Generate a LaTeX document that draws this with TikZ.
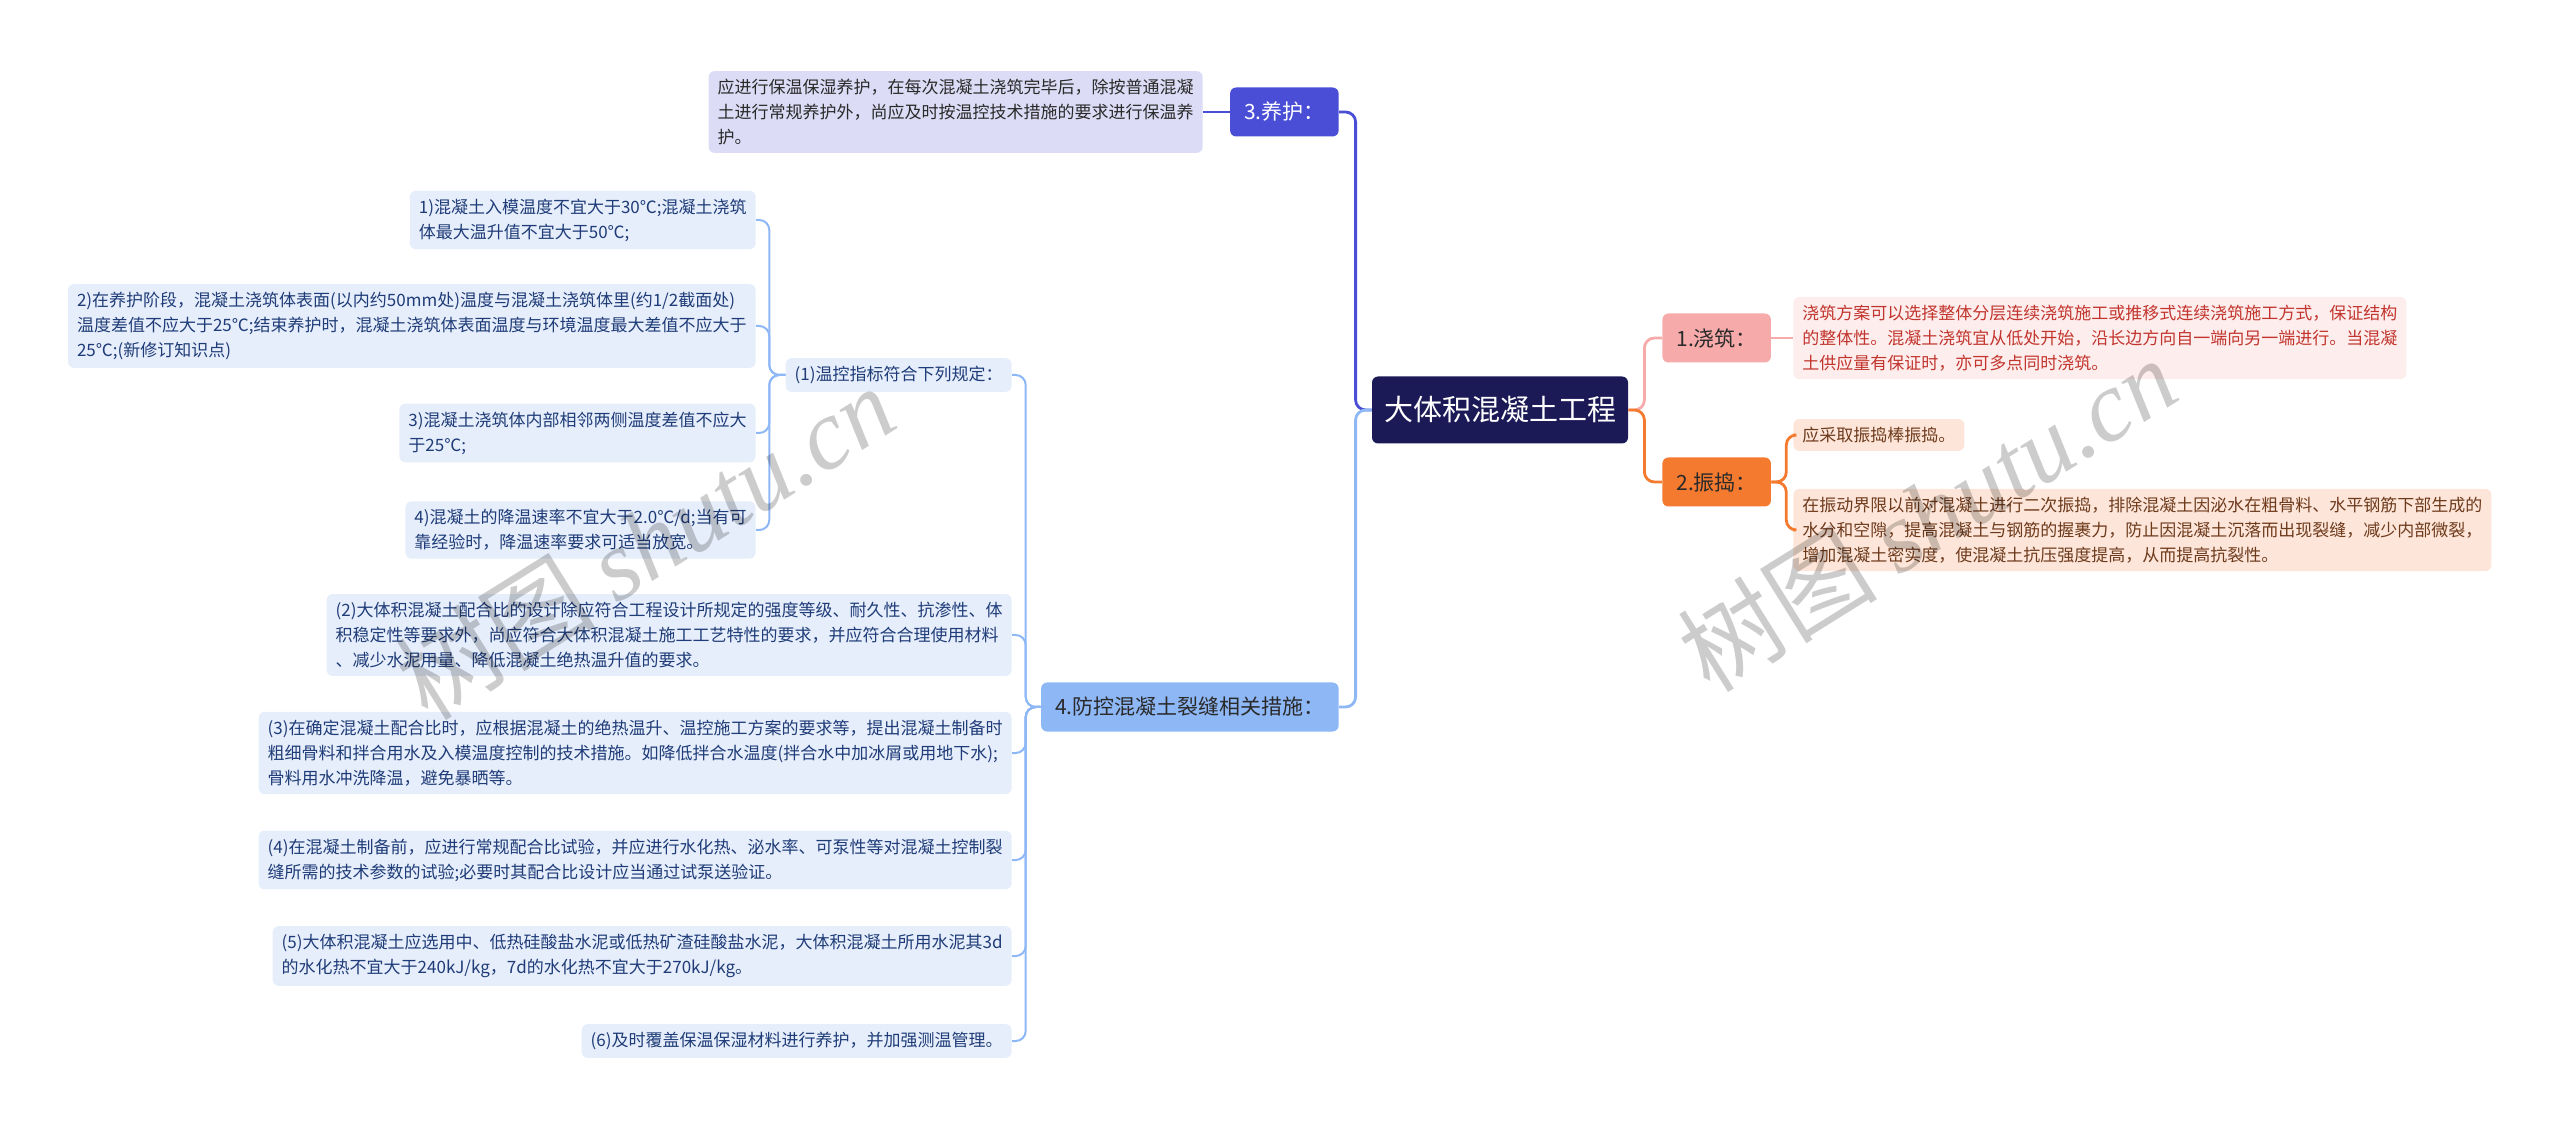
\documentclass[tikz,border=0pt]{standalone}
\usepackage{fontspec}
\setmainfont{Noto Sans CJK SC}
\newfontfamily\wmfont{Liberation Serif}
\usepackage{tikz}
\usetikzlibrary{positioning, calc}
\usepackage{xcolor}
\definecolor{ink}     {HTML}{2A2A2A}
\definecolor{navy}    {HTML}{1B1A57}
\definecolor{pinkb}   {HTML}{F6ABAA}
\definecolor{pinkl}   {HTML}{FDEDEC}
\definecolor{pinkt}   {HTML}{C2352E}
\definecolor{orangeb} {HTML}{F47A2F}
\definecolor{orangel} {HTML}{FDE6D9}
\definecolor{oranget} {HTML}{6E3A1C}
\definecolor{blueb}   {HTML}{4A4ED6}
\definecolor{bluel}   {HTML}{DCDCF6}
\definecolor{skyb}    {HTML}{8EB7F6}
\definecolor{skyl}    {HTML}{E6EEFB}
\definecolor{skyt}    {HTML}{1F3C78}
\tikzset{
  box/.style     = {rounded corners=3pt, inner xsep=4.5pt, inner ysep=4pt,
                    align=left, font=\fontsize{8.5}{12.5}\selectfont},
  rootbox/.style = {rounded corners=3pt, fill=navy, text=white, inner xsep=6pt,
                    minimum height=33.5pt, font=\fontsize{14.5}{17}\selectfont},
  branch/.style  = {rounded corners=3pt, inner xsep=7pt, minimum width=51.5pt,
                    minimum height=24.5pt, font=\fontsize{10.5}{13}\selectfont},
  pourb/.style   = {branch, fill=pinkb, text=ink},
  vibb/.style    = {branch, fill=orangeb, text=ink},
  cureb/.style   = {branch, fill=blueb, text=white},
  crackb/.style  = {branch, fill=skyb, text=ink},
  pourl/.style   = {box, fill=pinkl, text=pinkt},
  vibl/.style    = {box, fill=orangel, text=oranget},
  curel/.style   = {box, fill=bluel, text=ink},
  crackl/.style  = {box, fill=skyl, text=skyt},
  link/.style    = {line width=1.4pt, rounded corners=5pt},
  sublink/.style = {line width=1pt, rounded corners=5pt, skyb},
  wmark/.style   = {text=black, text opacity=0.2, rotate=32,
                    font=\fontsize{50}{56}\selectfont},
}

\begin{document}
\begin{tikzpicture}[x=0.5pt, y=-0.5pt]
  \useasboundingbox (0,0) rectangle (2560,1133);

  \node[rootbox] (root) at (1500,410) {大体积混凝土工程};

  \node[pourb, anchor=west]  (pour)  at (1662,338) {1.浇筑：};
  \node[vibb, anchor=west]   (vib)   at (1662,482) {2.振捣：};
  \node[cureb, anchor=east]  (cure)  at (1339,112) {3.养护：};
  \node[crackb, anchor=east] (crack) at (1339,707) {4.防控混凝土裂缝相关措施：};

  \node[pourl, anchor=west] (pour1) at (1793,338)
    {浇筑方案可以选择整体分层连续浇筑施工或推移式连续浇筑施工方式，保证结构\\
     的整体性。混凝土浇筑宜从低处开始，沿长边方向自一端向另一端进行。当混凝\\
     土供应量有保证时，亦可多点同时浇筑。};

  \node[vibl, anchor=west] (vib1) at (1793,435) {应采取振捣棒振捣。};
  \node[vibl, anchor=west] (vib2) at (1793,530)
    {在振动界限以前对混凝土进行二次振捣，排除混凝土因泌水在粗骨料、水平钢筋下部生成的\\
     水分和空隙，提高混凝土与钢筋的握裹力，防止因混凝土沉落而出现裂缝，减少内部微裂，\\
     增加混凝土密实度，使混凝土抗压强度提高，从而提高抗裂性。};

  \node[curel, anchor=east] (cure1) at (1203,112)
    {应进行保温保湿养护，在每次混凝土浇筑完毕后，除按普通混凝\\
     土进行常规养护外，尚应及时按温控技术措施的要求进行保温养\\
     护。};

  \node[crackl, anchor=east] (s1) at (1012,375) {(1)温控指标符合下列规定：};
  \node[crackl, anchor=east] (s2) at (1012,635)
    {(2)大体积混凝土配合比的设计除应符合工程设计所规定的强度等级、耐久性、抗渗性、体\\
     积稳定性等要求外，尚应符合大体积混凝土施工工艺特性的要求，并应符合合理使用材料\\
     、减少水泥用量、降低混凝土绝热温升值的要求。};
  \node[crackl, anchor=east] (s3) at (1012,753)
    {(3)在确定混凝土配合比时，应根据混凝土的绝热温升、温控施工方案的要求等，提出混凝土制备时\\
     粗细骨料和拌合用水及入模温度控制的技术措施。如降低拌合水温度(拌合水中加冰屑或用地下水);\\
     骨料用水冲洗降温，避免暴晒等。};
  \node[crackl, anchor=east] (s4) at (1012,860)
    {(4)在混凝土制备前，应进行常规配合比试验，并应进行水化热、泌水率、可泵性等对混凝土控制裂\\
     缝所需的技术参数的试验;必要时其配合比设计应当通过试泵送验证。};
  \node[crackl, anchor=east] (s5) at (1012,956)
    {(5)大体积混凝土应选用中、低热硅酸盐水泥或低热矿渣硅酸盐水泥，大体积混凝土所用水泥其3d\\
     的水化热不宜大于240kJ/kg，7d的水化热不宜大于270kJ/kg。};
  \node[crackl, anchor=east] (s6) at (1012,1041) {(6)及时覆盖保温保湿材料进行养护，并加强测温管理。};

  \node[crackl, anchor=east] (t1) at (756,220)
    {1)混凝土入模温度不宜大于30℃;混凝土浇筑\\
     体最大温升值不宜大于50℃;};
  \node[crackl, anchor=east] (t2) at (756,326)
    {2)在养护阶段，混凝土浇筑体表面(以内约50mm处)温度与混凝土浇筑体里(约1/2截面处)\\
     温度差值不应大于25℃;结束养护时，混凝土浇筑体表面温度与环境温度最大差值不应大于\\
     25℃;(新修订知识点)};
  \node[crackl, anchor=east] (t3) at (756,433)
    {3)混凝土浇筑体内部相邻两侧温度差值不应大\\
     于25℃;};
  \node[crackl, anchor=east] (t4) at (756,530)
    {4)混凝土的降温速率不宜大于2.0℃/d;当有可\\
     靠经验时，降温速率要求可适当放宽。};

  \draw[link, pinkb]   (root.east) -- ++(16,0) |- (pour.west);
  \draw[link, orangeb] (root.east) -- ++(16,0) |- (vib.west);
  \draw[link, blueb]   (root.west) -- ++(-16,0) |- (cure.east);
  \draw[link, skyb]    (root.west) -- ++(-16,0) |- (crack.east);

  \draw[link, pinkb] (pour.east) -- (pour1.west);
  \draw[link, blueb] (cure.west) -- (cure1.east);
  \foreach \c in {vib1, vib2}
    \draw[link, orangeb] (vib.east) -- ++(15,0) |- (\c.west);

  \foreach \c in {s1, s2, s3, s4, s5, s6}
    \draw[sublink] (crack.west) -- ++(-15,0) |- (\c.east);
  \foreach \c in {t1, t2, t3, t4}
    \draw[sublink] (s1.west) -- ++(-16,0) |- (\c.east);

  % watermark
  \node[wmark] (wm1) at (645,542) {树图 {\wmfont\itshape shutu.cn}};
  \node[wmark] (wm2) at (1927,514) {树图 {\wmfont\itshape shutu.cn}};

\end{tikzpicture}
\end{document}
